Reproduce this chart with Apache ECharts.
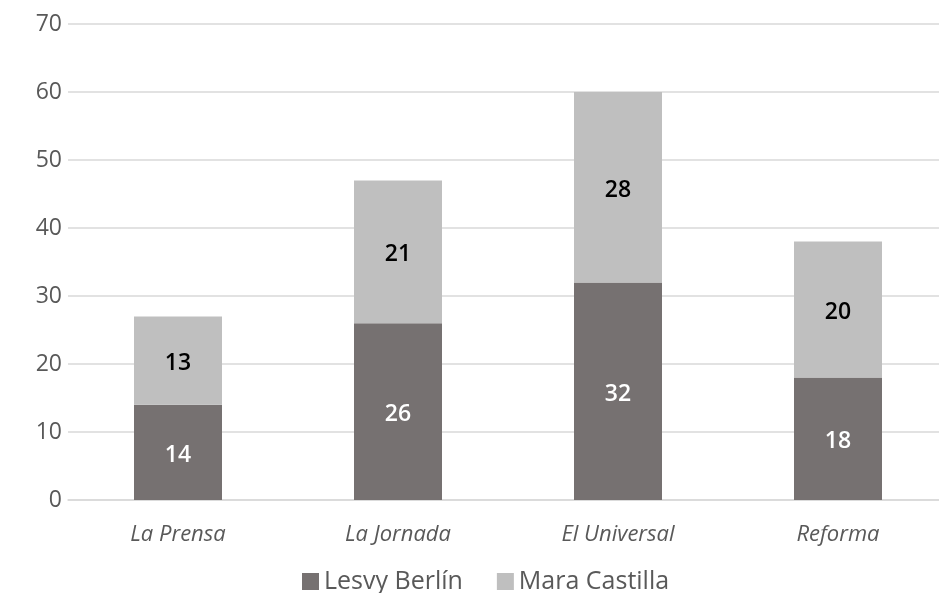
<!DOCTYPE html>
<html><head><meta charset="utf-8">
<script src="https://cdn.jsdelivr.net/npm/echarts@6/dist/echarts.min.js"></script>
<style>html,body{margin:0;padding:0;background:#fff}#c{width:939px;height:593px}</style>
</head><body><div id="c"></div>
<script>
const categories = ['La Prensa', 'La Jornada', 'El Universal', 'Reforma'];
const lesvyBerlin = [14, 26, 32, 18];
const maraCastilla = [13, 21, 28, 20];
const yTicks = {min: 0, max: 70, interval: 10};

const chart = echarts.init(document.getElementById('c'));
const font = '"Open Sans", sans-serif';
chart.setOption({
  animation: false,
  textStyle: {fontFamily: font},
  grid: {left: 68, width: 880, top: 24, bottom: 93, containLabel: false, outerBoundsMode: 'none'},
  legend: {
    bottom: -6, left: 297, itemWidth: 17, itemHeight: 17, itemGap: 34,
    icon: 'rect',
    textStyle: {fontSize: 25, color: '#595959', fontFamily: font},
    data: ['Lesvy Berlín', 'Mara Castilla']
  },
  xAxis: {
    type: 'category', data: categories,
    axisLine: {lineStyle: {color: '#d9d9d9', width: 1.5}},
    axisTick: {show: false},
    axisLabel: {fontSize: 22, fontStyle: 'italic', color: '#595959', margin: 24, fontFamily: font}
  },
  yAxis: {
    type: 'value', min: yTicks.min, max: yTicks.max, interval: yTicks.interval,
    axisLine: {show: false}, axisTick: {show: false},
    splitLine: {lineStyle: {color: '#d9d9d9', width: 1.5}},
    axisLabel: {fontSize: 23, color: '#595959', margin: 6, fontFamily: font}
  },
  series: [
    {name: 'Lesvy Berlín', type: 'bar', stack: 's', data: lesvyBerlin, barWidth: '40%',
     itemStyle: {color: '#767171'},
     label: {show: true, position: 'inside', offset: [0, 3], color: '#fff', fontSize: 23, fontWeight: 600, fontFamily: font}},
    {name: 'Mara Castilla', type: 'bar', stack: 's', data: maraCastilla, barWidth: '40%',
     itemStyle: {color: '#bfbfbf'},
     label: {show: true, position: 'inside', offset: [0, 3], color: '#000', fontSize: 23, fontWeight: 600, fontFamily: font}}
  ]
});
</script></body></html>
